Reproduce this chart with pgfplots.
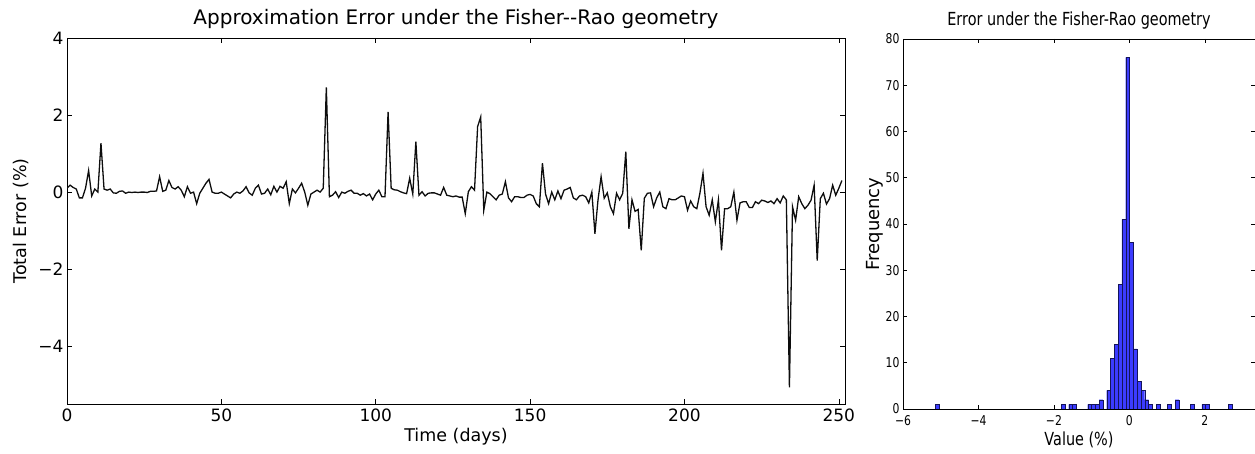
\documentclass[border=0pt]{standalone}
\usepackage{fontspec}
\setmainfont{DejaVu Sans}
\newfontfamily\cond[FakeStretch=0.8]{DejaVu Sans}
\usepackage{pgfplots}
\pgfplotsset{compat=1.18}
\definecolor{histblue}{RGB}{60,60,255}
\definecolor{histedge}{RGB}{20,20,90}
\begin{document}
\begin{tikzpicture}
\useasboundingbox (0,0) rectangle (1255pt,454pt);
\begin{axis}[
  at={(67pt,50pt)}, anchor=south west,
  width=778pt, height=366pt, scale only axis,
  xmin=0, xmax=252, ymin=-5.5, ymax=4,
  xtick={0,50,100,150,200,250}, xticklabels={0,50,100,150,200,250},
  ytick={-4,-2,0,2,4}, yticklabels={−4,−2,0,2,4},
  /pgf/number format/assume math mode=true,
  tick pos=both, tick align=inside, major tick length=5pt,
  tick style={black, line width=0.6pt},
  axis line style={black, line width=0.9pt},
  ticklabel style={font=\fontsize{17}{17}\selectfont},
  xticklabel style={yshift=-1pt},
  title={Approximation Error under the Fisher{-}{-}Rao geometry},
  title style={font=\fontsize{20}{20}\selectfont, at={(0.5,1)}, anchor=south, yshift=0pt},
  xlabel={Time (days)}, ylabel={Total Error (\%)},
  label style={font=\fontsize{17.5}{17.5}\selectfont},
  xlabel style={yshift=0pt},
  ylabel style={yshift=3pt},
]
\addplot[black!95, line width=1.3pt, mark=none] table {
x y
0 0.10
1 0.18
2 0.12
3 0.08
4 -0.15
5 -0.15
6 0.10
7 0.56
8 -0.10
9 0.08
10 0.00
11 1.27
12 0.08
13 0.05
14 0.08
15 -0.02
16 -0.03
17 0.02
18 0.03
19 -0.03
20 0.00
21 -0.01
22 0.00
23 -0.01
24 0.00
25 0.00
26 -0.01
27 0.02
28 0.02
29 0.03
30 0.40
31 0.02
32 0.05
33 0.30
34 0.12
35 0.08
36 0.14
37 0.05
38 -0.12
39 0.14
40 -0.03
41 0.00
42 -0.30
43 -0.03
44 0.10
45 0.23
46 0.33
47 0.00
48 -0.03
49 -0.03
50 0.00
51 -0.05
52 -0.10
53 -0.15
54 -0.05
55 0.00
56 -0.03
57 0.03
58 0.14
59 -0.02
60 -0.08
61 0.10
62 0.18
63 -0.05
64 -0.03
65 0.08
66 -0.07
67 0.15
68 0.00
69 0.15
70 0.10
71 0.27
72 -0.30
73 0.08
74 -0.02
75 0.10
76 0.23
77 0.00
78 -0.34
79 -0.05
80 0.00
81 0.05
82 0.00
83 0.10
84 2.72
85 -0.12
86 -0.08
87 0.01
88 -0.14
89 0.00
90 -0.03
91 0.02
92 0.05
93 -0.03
94 -0.03
95 -0.08
96 -0.04
97 -0.10
98 -0.05
99 -0.20
100 -0.05
101 0.05
102 -0.12
103 -0.12
104 2.08
105 0.10
106 0.06
107 0.05
108 0.01
109 -0.02
110 -0.04
111 0.36
112 -0.05
113 1.31
114 -0.08
115 0.01
116 -0.10
117 -0.03
118 -0.02
119 -0.02
120 -0.05
121 -0.08
122 0.12
123 -0.08
124 -0.10
125 -0.12
126 -0.10
127 -0.13
128 -0.13
129 -0.56
130 0.01
131 0.14
132 0.05
133 1.70
134 1.95
135 -0.47
136 0.00
137 -0.04
138 -0.12
139 -0.20
140 -0.08
141 -0.05
142 0.27
143 -0.15
144 -0.25
145 -0.12
146 -0.12
147 -0.14
148 -0.14
149 -0.08
150 -0.06
151 -0.10
152 -0.30
153 -0.38
154 0.75
155 -0.05
156 -0.30
157 0.00
158 -0.20
159 0.03
160 -0.17
161 0.05
162 0.08
163 0.12
164 -0.15
165 -0.20
166 -0.10
167 -0.08
168 -0.12
169 -0.28
170 0.00
171 -1.08
172 -0.20
173 0.40
174 -0.16
175 -0.02
176 -0.38
177 -0.56
178 -0.03
179 -0.20
180 -0.03
181 1.05
182 -0.95
183 -0.20
184 -0.50
185 -0.45
186 -1.51
187 -0.16
188 -0.03
189 -0.02
190 -0.38
191 -0.15
192 0.00
193 -0.38
194 -0.43
195 -0.17
196 -0.20
197 -0.20
198 -0.15
199 -0.10
200 -0.12
201 -0.47
202 -0.23
203 -0.38
204 -0.43
205 -0.03
206 0.49
207 -0.38
208 -0.60
209 -0.20
210 -0.77
211 -0.20
212 -1.51
213 -0.43
214 -0.43
215 -0.38
216 0.00
217 -0.73
218 -0.28
219 -0.25
220 -0.25
221 -0.40
222 -0.40
223 -0.25
224 -0.30
225 -0.21
226 -0.23
227 -0.27
228 -0.23
229 -0.30
230 -0.17
231 -0.28
232 -0.10
233 -0.20
234 -5.07
235 -0.38
236 -0.73
237 -0.12
238 -0.30
239 -0.43
240 -0.34
241 -0.21
242 0.18
243 -1.78
244 -0.17
245 -0.03
246 -0.31
247 -0.17
248 0.18
249 -0.08
250 0.10
251 0.30
};
\end{axis}
\begin{axis}[
  at={(903pt,45pt)}, anchor=south west,
  width=352pt, height=370pt, scale only axis,
  xmin=-6, xmax=3.33, ymin=0, ymax=80,
  xtick={-6,-4,-2,0,2}, xticklabels={−6,−4,−2,0,2},
  ytick={0,10,20,30,40,50,60,70,80},
  yticklabels={0,10,20,30,40,50,60,70,80},
  /pgf/number format/assume math mode=true,
  tick pos=both, tick align=inside, major tick length=4pt,
  tick style={black, line width=0.5pt},
  axis line style={black, line width=0.9pt},
  ticklabel style={font=\cond\fontsize{13.5}{13.5}\selectfont},
  xticklabel style={yshift=-3pt},
  title={Error under the Fisher-Rao geometry},
  title style={font=\cond\fontsize{18}{18}\selectfont, at={(0.5,1)}, anchor=south, yshift=0pt},
  xlabel={Value (\%)}, ylabel={Frequency},
  xlabel style={font=\cond\fontsize{18}{18}\selectfont, yshift=1pt},
  ylabel style={font=\fontsize{18}{18}\selectfont, yshift=-4pt},
]
\addplot[ybar, bar width=0.1008, bar shift=0pt, fill=histblue, draw=histedge, line width=0.3pt] coordinates {
(-5.0866,1) (-1.7602,1) (-1.5586,1) (-1.4578,1) (-1.0546,1) (-0.9538,1)
(-0.8530,1) (-0.7522,2) (-0.5506,4) (-0.4498,11) (-0.3490,14) (-0.2482,27)
(-0.1474,41) (-0.0466,76) (0.0542,36) (0.1550,13) (0.2558,6) (0.3566,4)
(0.4574,2) (0.5582,1) (0.7598,1) (1.0622,1) (1.2638,2) (1.6670,1)
(1.9694,1) (2.0702,1) (2.6750,1)
};
\end{axis}
\end{tikzpicture}
\end{document}
